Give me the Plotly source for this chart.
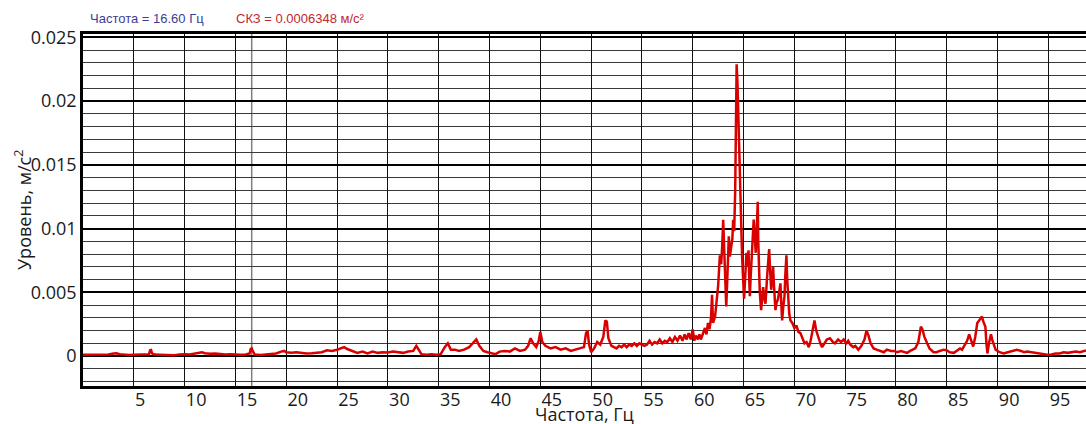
import plotly.graph_objects as go

# ---- data ----
freq_hz = [
    0, 0.5, 1, 1.5, 2, 2.5, 3, 3.3, 3.6, 4, 4.5, 5,
    5.5, 6, 6.5, 6.6, 6.7, 6.8, 7, 7.5, 8, 8.5, 9, 9.5, 10,
    10.5, 11, 11.4, 11.7, 12, 12.5, 13, 13.5, 14, 14.5, 15,
    15.5, 16, 16.4, 16.5, 16.6, 16.7, 16.9, 17.2, 17.5, 18, 18.5, 19, 19.5, 19.8, 20,
    20.5, 21, 21.5, 22, 22.5, 23, 23.5, 24, 24.5, 25,
    25.3, 25.7, 26, 26.5, 27, 27.5, 28, 28.5, 29, 29.5, 30,
    30.5, 31, 31.5, 32, 32.5, 32.8, 33, 33.3, 33.8, 34.3, 34.8,
    35.2, 35.6, 35.9, 36.2, 36.6, 37, 37.5, 38, 38.4, 38.7, 39, 39.4, 39.8,
    40.2, 40.6, 41, 41.5, 42, 42.5, 43, 43.5, 43.8, 44.05, 44.3, 44.6, 44.85, 45.0, 45.2,
    45.5, 46, 46.5, 47, 47.5, 48, 48.5, 49, 49.3, 49.5, 49.65, 49.8, 50,
    50.3, 50.6, 50.9, 51.2, 51.4, 51.55, 51.7, 52,
    52.25, 52.5, 52.75, 53, 53.25, 53.5, 53.75, 54, 54.25, 54.5, 54.75, 55,
    55.25, 55.5, 55.75, 56, 56.25, 56.5, 56.75, 57, 57.25, 57.5, 57.75, 58, 58.25, 58.5, 58.75,
    59, 59.2, 59.4, 59.6, 59.8, 60.0, 60.15, 60.3, 60.5, 60.65,
    60.8, 61.0, 61.2, 61.35, 61.5, 61.65, 61.8, 61.9, 62.0, 62.2, 62.35, 62.5, 62.67, 62.8, 62.9, 63.0, 63.1, 63.2, 63.3, 63.4,
    63.55, 63.65, 63.78, 63.9, 63.98, 64.08, 64.18, 64.25, 64.32, 64.4, 64.47, 64.52, 64.57, 64.65, 64.7, 64.8, 64.86, 64.95, 65.05, 65.15,
    65.29, 65.4, 65.49, 65.56, 65.62, 65.7, 65.78, 65.9, 66.0, 66.1, 66.2, 66.3, 66.4, 66.45, 66.5, 66.6, 66.73, 66.85, 66.93, 67.05,
    67.16, 67.3, 67.39, 67.52, 67.6, 67.72, 67.8, 67.91, 68.0, 68.14, 68.25, 68.37, 68.5, 68.63, 68.72, 68.8, 68.9, 69.03, 69.12, 69.22,
    69.3, 69.39, 69.5, 69.62, 69.8, 70.0, 70.2, 70.4, 70.6, 70.8, 71.0, 71.2, 71.42, 71.6, 71.8, 71.98, 72.15, 72.4, 72.6, 72.73, 73.0, 73.2,
    73.5, 73.8, 74.0, 74.3, 74.6, 74.85, 75.1, 75.3, 75.5, 75.8, 76.0, 76.3, 76.6, 76.9, 77.1, 77.3, 77.5, 77.8,
    78.1, 78.5, 78.8, 79.1, 79.5, 79.8, 80.1, 80.5, 80.8, 81.1, 81.4, 81.7, 81.9, 82.2, 82.45, 82.6, 82.8, 83.07, 83.3, 83.7,
    84.0, 84.3, 84.7, 85.0, 85.3, 85.7, 86.0, 86.3, 86.5, 86.8, 87.0, 87.2, 87.4, 87.6, 87.8, 88.0, 88.2, 88.46, 88.6, 88.8, 88.9, 89.0, 89.15, 89.35, 89.5, 89.8,
    90.2, 90.6, 91.0, 91.4, 91.9, 92.3, 92.6, 92.9, 93.3, 93.7, 94.1, 94.5, 94.9, 95.3, 95.7, 96.1, 96.5, 96.9, 97.3, 97.7, 98.1, 98.4, 98.7,
]

level_ms2 = [
    0.0001, 0.0001, 0.00008, 0.0001, 0.0001, 0.00012, 0.0002, 0.00022, 0.00015, 0.0001, 0.00008, 0.0001,
    0.0001, 0.00012, 0.00015, 0.00045, 0.00047, 0.0002, 0.00012, 0.0001, 0.00008, 0.0001, 0.00006, 0.00012, 0.00015,
    0.00012, 0.0002, 0.00025, 0.0003, 0.00022, 0.00018, 0.0002, 0.00015, 0.00012, 0.00015, 0.0001,
    0.0001, 0.00012, 0.0002, 0.00055, 0.0006, 0.0004, 0.00012, 0.0001, 0.00008, 0.00012, 0.00018, 0.0002, 0.00035, 0.0004, 0.0003,
    0.00025, 0.0003, 0.00025, 0.0002, 0.00022, 0.00025, 0.0003, 0.00045, 0.0004, 0.0005,
    0.0006, 0.0007, 0.00055, 0.0004, 0.00025, 0.00035, 0.0002, 0.00035, 0.00025, 0.0003, 0.00028,
    0.00035, 0.0003, 0.00025, 0.00035, 0.0004, 0.0008, 0.0005, 0.00015, 0.0001, 0.00015, 0.0001,
    0.00015, 0.0007, 0.001, 0.0005, 0.0005, 0.0004, 0.0005, 0.0007, 0.001, 0.0013, 0.0008, 0.0004, 0.0003,
    0.0002, 0.00015, 0.00035, 0.0004, 0.00035, 0.0006, 0.0004, 0.0005, 0.0008, 0.0014, 0.001, 0.0007, 0.0012, 0.0019, 0.0011,
    0.0008, 0.0006, 0.0007, 0.0005, 0.0006, 0.0004, 0.0005, 0.0006, 0.0007, 0.0018, 0.002, 0.0009, 0.0003,
    0.0006, 0.0011, 0.0009, 0.0015, 0.0028, 0.0027, 0.0014, 0.0008,
    0.0007, 0.0006, 0.0008, 0.0007, 0.0009, 0.0007, 0.0009, 0.0008, 0.001, 0.0008, 0.001, 0.0009,
    0.0008, 0.0009, 0.0012, 0.0009, 0.0011, 0.001, 0.0013, 0.001, 0.0012, 0.0011, 0.0014, 0.0011, 0.0015, 0.0012, 0.0016,
    0.0012, 0.0017, 0.0013, 0.0018, 0.0013, 0.0021, 0.0012, 0.0016, 0.0013, 0.0017,
    0.0013, 0.0018, 0.0022, 0.0017, 0.0026, 0.0021, 0.003, 0.0048, 0.0026, 0.0031, 0.0045, 0.0055, 0.0079, 0.0072, 0.0086, 0.0107, 0.0083, 0.0065, 0.0039, 0.006,
    0.0094, 0.0078, 0.0086, 0.0092, 0.0107, 0.0098, 0.013, 0.019, 0.0229, 0.0215, 0.0193, 0.0165, 0.0154, 0.0125, 0.011, 0.009, 0.0078, 0.0062, 0.0045, 0.006,
    0.0081, 0.007, 0.0083, 0.006, 0.0047, 0.0062, 0.0075, 0.009, 0.0107, 0.0095, 0.0081, 0.01, 0.0121, 0.009, 0.0068, 0.005, 0.0036, 0.0048, 0.0054, 0.0045,
    0.0041, 0.006, 0.0073, 0.0084, 0.007, 0.0052, 0.006, 0.007, 0.0055, 0.0036, 0.0042, 0.0044, 0.005, 0.0057, 0.004, 0.0028, 0.0038, 0.0047, 0.0065, 0.0079,
    0.006, 0.0041, 0.0033, 0.0028, 0.0026, 0.0022, 0.0024, 0.0019, 0.0018, 0.0014, 0.001, 0.0011, 0.0007, 0.0012, 0.002, 0.0028, 0.002, 0.0013, 0.0009, 0.0007, 0.001, 0.0013,
    0.0014, 0.0011, 0.001, 0.0013, 0.0011, 0.0013, 0.001, 0.0012, 0.0009, 0.0007, 0.0008, 0.0005, 0.0008, 0.0013, 0.002, 0.0016, 0.001, 0.0006,
    0.0005, 0.0004, 0.0003, 0.0005, 0.0004, 0.0004, 0.0003, 0.0004, 0.0003, 0.00025, 0.0004, 0.0005, 0.0006, 0.0011, 0.0023, 0.0021, 0.0015, 0.001, 0.0006, 0.0003,
    0.0003, 0.0004, 0.0005, 0.00045, 0.0003, 0.00025, 0.0004, 0.0006, 0.0005, 0.0009, 0.0012, 0.0017, 0.0012, 0.00075, 0.0015, 0.0026, 0.0028, 0.0031, 0.0027, 0.0023, 0.001, 0.0002, 0.001, 0.0017, 0.0012, 0.0005,
    0.0003, 0.0002, 0.0003, 0.0004, 0.0005, 0.0004, 0.0003, 0.00035, 0.0003, 0.0002, 0.0002, 0.00015, 0.0001, 0.00012, 0.0002, 0.0002, 0.0003, 0.00025, 0.0003, 0.00035, 0.0003, 0.0004, 0.00045,
]
assert len(freq_hz) == len(level_ms2)

x_tickvals = [5, 10, 15, 20, 25, 30, 35, 40, 45, 50, 55, 60, 65, 70, 75, 80, 85, 90, 95]
y_tickvals = [0, 0.005, 0.01, 0.015, 0.02, 0.025]
y_ticktext = ["0", "0.005", "0.01", "0.015", "0.02", "0.025"]

cursor_freq = 16.60
cursor_text = "Частота = 16.60 Гц"
rms_text = "СКЗ = 0.0006348 м/с²"
x_title = "Частота, Гц"
y_title = "Уровень, м/с<sup>2</sup>"

FONT = "Open Sans, DejaVu Sans, sans-serif"
SMALL = "Liberation Sans Narrow, Liberation Sans, Arial, sans-serif"

fig = go.Figure()
fig.add_trace(go.Scatter(
    x=freq_hz, y=level_ms2, mode="lines",
    line=dict(color="#d90000", width=2.5),
    hoverinfo="skip", showlegend=False,
))

# cursor line
fig.add_shape(type="line", xref="x", yref="paper", x0=cursor_freq, x1=cursor_freq,
              y0=0, y1=1, line=dict(color="#808080", width=1.5), layer="below")

fig.update_layout(
    width=1086, height=424,
    margin=dict(l=83, r=0, t=34, b=38),
    paper_bgcolor="white", plot_bgcolor="white",
    font=dict(family=FONT, size=18, color="#1a1a1a"),
    showlegend=False,
    annotations=[
        dict(text=cursor_text, xref="paper", yref="paper", x=0.005, y=1.0, yshift=16,
             xanchor="left", yanchor="middle", showarrow=False,
             font=dict(family=SMALL, size=13, color="#3c3c96")),
        dict(text=rms_text, xref="paper", yref="paper", x=0.151, y=1.0, yshift=16,
             xanchor="left", yanchor="middle", showarrow=False,
             font=dict(family=SMALL, size=13, color="#c0282d")),
        dict(text=x_title, xref="paper", yref="paper", x=0.5, y=0, yshift=-28,
             xanchor="center", yanchor="middle", showarrow=False,
             font=dict(family=FONT, size=18, color="#1a1a1a")),
        dict(text=y_title, xref="paper", yref="paper", x=0, y=0.5, xshift=-60,
             xanchor="center", yanchor="middle", textangle=-90, showarrow=False,
             font=dict(family=FONT, size=18, color="#1a1a1a")),
    ],
)

fig.update_xaxes(
    range=[0, 98.7], tickmode="array", tickvals=x_tickvals,
    ticks="", ticklabelposition="outside right", ticklabelstandoff=-4,
    showgrid=True, gridcolor="#111111", gridwidth=1.3,
    showline=True, linecolor="#000000", linewidth=2.5, mirror=True,
    zeroline=False, automargin=False,
    tickfont=dict(size=18),
)

fig.update_yaxes(
    range=[-0.00235, 0.02527], tickmode="array", tickvals=y_tickvals, ticktext=y_ticktext,
    ticks="", showgrid=True, gridcolor="#000000", gridwidth=2,
    minor=dict(dtick=0.001, tick0=0, showgrid=True, gridcolor="#3a3a3a", gridwidth=1),
    showline=True, linecolor="#000000", linewidth=2.5, mirror=False,
    zeroline=False, automargin=False,
    tickfont=dict(size=18),
)

fig.write_html(
    "out.html",
    config={"displayModeBar": False},
    post_script="document.body.style.margin='0';document.body.style.overflow='hidden';",
)
